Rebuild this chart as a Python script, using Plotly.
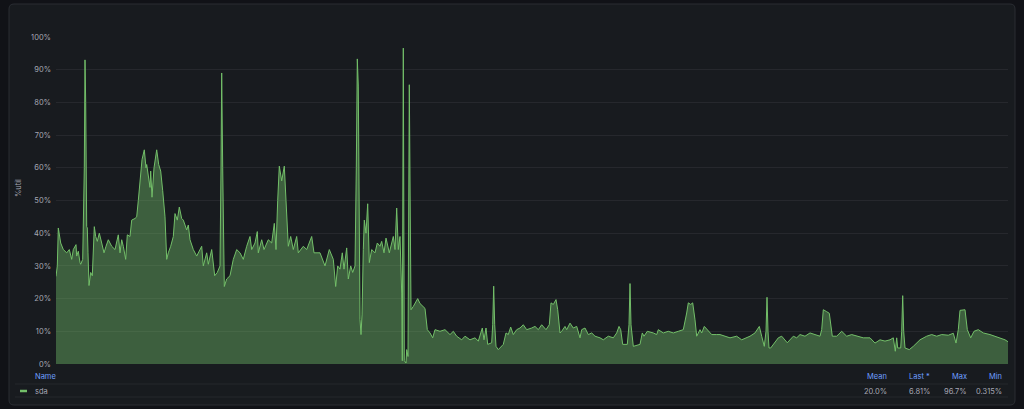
import plotly.graph_objects as go

# ---- data ----
minutes = [0, 1.3, 2.3, 4.7, 7.3, 10.7, 13.3, 15.7, 17.3, 20, 20.7, 22.3, 24, 24.7, 26.7, 28.3, 29, 29.7, 30.7, 31.3,
           32, 33, 34.7, 36.3, 38.3, 39.7, 41.3, 43.3, 45.7, 48, 50, 52.3, 55.7, 59, 62.3, 64, 65.7, 67.3, 69.7, 71.3,
           74, 75.7, 79, 80.7, 82.3, 84.7, 86, 88.3, 90, 90.7, 92.3, 94, 94.7, 96, 98, 100.7, 102.7, 104.7, 106.7, 109,
           110.7, 112.3, 114.7, 117.3, 119, 121.3, 123.3, 125.7, 127.3, 130.7, 132.3, 134, 137.3, 140.7, 145.7, 147.3,
           150.7, 152.3, 155.7, 158.7, 161.3, 164, 165, 165.7, 166.7, 168.3, 170.7, 174, 177.3, 180.7, 184, 187.3,
           190.7, 194, 195.7, 199, 201.3, 202.3, 205.7, 208, 212.3, 215.7, 218.3, 220, 221.7, 223.3, 225.7, 228.3,
           230, 231.3, 232.3, 234.7, 237.3, 240.7, 242.3, 247.3, 250.7, 255.7, 258, 264, 269, 273.3, 277.3, 279.7,
           281.7, 284, 286.3, 288, 290.7, 292.3, 294.7, 296.7, 299, 300.3, 301.3, 302.3, 303.3, 304, 305, 306, 307.3,
           308.3, 310, 311.7, 313.3, 315.7, 319, 321.3, 324, 325.7, 328, 330, 333.3, 337.3, 339, 340.7, 342.3, 344,
           345.7, 346.3, 347.3, 348.3, 350, 350.7, 352, 353.3, 355, 357.3, 361.7, 364, 369, 371.3, 374, 376.7, 379,
           384, 389, 394, 397.3, 400.7, 405.7, 409, 414, 419, 422.3, 426.3, 428, 430, 431.7, 435.7, 436.7, 437.7,
           438.7, 440, 442.3, 447.3, 450, 452.3, 454.7, 457.3, 460.7, 464, 467.3, 470.7, 475.7, 479, 482.3, 485.7,
           490, 493.3, 495, 497.3, 500, 501.7, 504, 505.7, 509, 510.7, 514, 517.3, 520.7, 524, 525.7, 529, 532.3,
           535.7, 539, 544, 547.3, 552.3, 557.3, 560.7, 563, 564.7, 566.7, 571.3, 573, 574, 575, 577.3, 584, 586.3,
           588, 591.3, 597.3, 600.7, 602.3, 607.3, 612.3, 617.3, 622.3, 627.3, 630.7, 632.3, 634.7, 636.7, 639,
           640.7, 644, 645.7, 648.3, 652.3, 655.7, 660.7, 664, 674, 680.7, 685.7, 690.7, 694, 699, 703.3, 705.7,
           708.3, 710, 711, 712, 713, 714.7, 717.3, 722.3, 725.7, 731.3, 737.3, 740.7, 744, 749, 754, 759, 764,
           765.7, 767.3, 770.7, 773.3, 776.3, 780.7, 785.7, 790.7, 795.7, 800.7, 807.3, 814, 819, 824, 829, 834,
           837.3, 839.3, 840.7, 841.7, 844.7, 845.7, 846.7, 847.7, 849, 853.3, 857.3, 864, 870.7, 875.7, 880.7,
           885.7, 892.3, 897.3, 900, 902.3, 904, 909, 911.3, 914.7, 918, 922.3, 927.3, 934, 939, 944, 949, 952]
util = [26.8, 30, 41.6, 37, 35, 34, 35, 32, 35, 36.5, 33, 34.5, 31, 30.5, 32, 60, 93, 80, 42, 41.6,
        34, 24, 28, 27, 42, 39, 37.5, 40, 37, 34, 36, 38, 36, 35, 39.5, 34, 38, 36, 32, 39.5,
        39, 44, 44.5, 45, 50, 59.4, 62.5, 65.5, 60, 61, 58, 54, 59, 51, 60, 65.5, 61, 59, 53, 45,
        32, 34, 36, 39, 46, 44, 48, 44.5, 44, 41, 42.5, 38, 35, 33, 36, 30,
        34, 30.5, 35, 27, 28, 30, 60, 89, 60, 23.7, 26, 27, 32, 35, 34, 32,
        36, 39, 35, 37, 40.5, 34, 38, 35, 38, 37, 43, 35, 50, 60.5, 56, 60.5,
        50, 40, 36, 39, 35, 39, 34, 36, 35, 39, 34, 34, 30, 35, 32, 23.7,
        30, 29, 34, 29, 35.5, 26, 30, 28, 30, 60, 93.3, 85, 30, 13.6, 9, 15, 35,
        44, 40, 49, 31, 35, 34, 37, 36, 37.5, 34, 38.5, 34, 39, 35, 47.7, 35, 39,
        21.7, 1, 96.6, 1, 0.3, 4.4, 2.3, 85.4, 16.6, 17.6, 20, 18.5, 17, 10.5, 9.5, 8, 10.5,
        10, 10.5, 9, 10, 8.5, 7.4, 8.5, 7.4, 8, 7, 11, 7.4, 11, 6, 6.5, 12, 23.8,
        12, 5.4, 4.4, 6, 9.5, 9, 11.3, 9, 10.5, 11, 12, 10.5, 11, 11.5, 10.5, 12,
        10.5, 12, 18.7, 18.2, 19.7, 16.6, 9.5, 10, 11.5, 10.5, 12.5, 11, 11.5, 8, 10.5, 11, 9,
        9.5, 8.5, 8, 7.4, 8.5, 8, 9.5, 11.5, 10.5, 6, 6, 12, 24.6, 12, 5.4, 6, 9.5,
        8.5, 10, 9.5, 9, 10.5, 9.5, 10, 9.5, 10, 10.5, 15.6, 18.7, 18.2, 18.7, 13.5,
        8.5, 10.5, 9.5, 11.5, 10, 9, 9, 9, 8, 8.5, 7.4, 8, 8.5, 9.5, 11.5, 8.5,
        5.4, 10, 20.4, 10, 4.9, 4.9, 5.9, 8, 8.5, 6.5, 8.5, 8, 9, 8.5, 9.5, 9, 8.5,
        10.5, 16.6, 16, 15.5, 8.5, 8.5, 10, 8.5, 9, 8.5, 8, 8, 6.4, 7.4, 7, 7.4,
        8, 3.9, 8, 4.9, 4.9, 10, 20.9, 10, 4.9, 4.4, 5.4, 7.4, 8.5, 9, 8.5,
        9, 8.8, 9.4, 6.4, 10.5, 16.4, 16.6, 10.5, 8, 10, 10.5, 9.5, 9, 8.5, 8, 7.4, 6.81]

series_name = "sda"
y_ticks = [0, 10, 20, 30, 40, 50, 60, 70, 80, 90, 100]
y_tick_labels = ["0%", "10%", "20%", "30%", "40%", "50%", "60%", "70%", "80%", "90%", "100%"]
stat_headers = ["Mean", "Last *", "Max", "Min"]
stat_values = ["20.0%", "6.81%", "96.7%", "0.315%"]

# ---- geometry helpers (pixel -> paper) ----
W, H = 1024, 409
ML, MR, MT, MB = 56, 16, 37, 45
PW = W - ML - MR
PH = H - MT - MB


def px(x):
    return (x - ML) / PW


def py(y):
    return (H - MB - y) / PH


GREEN = "#73bf69"
TEXT = "rgba(204,204,220,0.8)"
BLUE = "#6e9fff"
FONT = "Inter, Roboto, sans-serif"
OUTER = "#111217"

fig = go.Figure()
fig.add_trace(go.Scatter(
    x=minutes, y=util, mode="lines", name=series_name,
    line=dict(color=GREEN, width=1),
    fill="tozeroy", fillcolor="rgba(115,191,105,0.42)",
    hoverinfo="skip", showlegend=False,
))

# rounded panel background
x0, x1, y0, y1 = 9, 1015, 4, 405
r = 5
rx, ry = r / PW, r / PH
X0, X1, Y0, Y1 = px(x0), px(x1), py(y1), py(y0)
path = (f"M {X0+rx},{Y0} L {X1-rx},{Y0} Q {X1},{Y0} {X1},{Y0+ry} "
        f"L {X1},{Y1-ry} Q {X1},{Y1} {X1-rx},{Y1} L {X0+rx},{Y1} "
        f"Q {X0},{Y1} {X0},{Y1-ry} L {X0},{Y0+ry} Q {X0},{Y0} {X0+rx},{Y0} Z")
shapes = [dict(type="path", xref="paper", yref="paper", path=path,
               fillcolor="#181b1f", line=dict(color="#2a2d33", width=1), layer="below")]
# legend table separators
for yy in (384, 397):
    shapes.append(dict(type="line", xref="paper", yref="paper",
                       x0=px(15), x1=px(1008), y0=py(yy), y1=py(yy),
                       line=dict(color="#25282d", width=1)))
# legend swatch
shapes.append(dict(type="line", xref="paper", yref="paper",
                   x0=px(20), x1=px(27), y0=py(391), y1=py(391),
                   line=dict(color=GREEN, width=2.5)))

annotations = [
    dict(text="%util", x=px(18), y=py(188), xref="paper", yref="paper", textangle=-90,
         xanchor="center", yanchor="middle",
         showarrow=False, font=dict(size=7.5, color=TEXT, family=FONT)),
    dict(text="Name", x=px(33), y=py(377), xref="paper", yref="paper", xanchor="left",
         yanchor="middle", showarrow=False, font=dict(size=7.5, color=BLUE, family=FONT)),
    dict(text=series_name, x=px(33), y=py(391), xref="paper", yref="paper", xanchor="left",
         yanchor="middle", showarrow=False, font=dict(size=7.5, color=TEXT, family=FONT)),
]
col_right = [889, 932, 969, 1004]
for h, v, cx in zip(stat_headers, stat_values, col_right):
    annotations.append(dict(text=h, x=px(cx), y=py(377), xref="paper", yref="paper",
                            xanchor="right", yanchor="middle", showarrow=False,
                            font=dict(size=7.5, color=BLUE, family=FONT)))
    annotations.append(dict(text=v, x=px(cx), y=py(391), xref="paper", yref="paper",
                            xanchor="right", yanchor="middle", showarrow=False,
                            font=dict(size=7.5, color=TEXT, family=FONT)))

fig.update_layout(
    width=W, height=H,
    margin=dict(l=ML, r=MR, t=MT, b=MB, pad=0),
    paper_bgcolor=OUTER, plot_bgcolor="rgba(0,0,0,0)",
    font=dict(family=FONT, size=7.5, color=TEXT),
    shapes=shapes, annotations=annotations,
    showlegend=False,
    xaxis=dict(range=[0, 952], showgrid=False, showticklabels=False, zeroline=False,
               ticks="", showline=False, fixedrange=True),
    yaxis=dict(range=[0, 100], tickmode="array", tickvals=y_ticks, ticktext=y_tick_labels,
               gridcolor="rgba(204,204,220,0.08)", gridwidth=1, zeroline=False,
               showline=False, ticks="", ticklabelstandoff=4,
               tickfont=dict(size=7.5, color=TEXT, family=FONT), fixedrange=True),
)

fig.write_html(
    "out.html",
    config={"displayModeBar": False},
    post_script=("document.body.style.margin='0';document.body.style.padding='0';"
                 "document.body.style.background='" + OUTER + "';"
                 "document.body.style.overflow='hidden';"),
)
